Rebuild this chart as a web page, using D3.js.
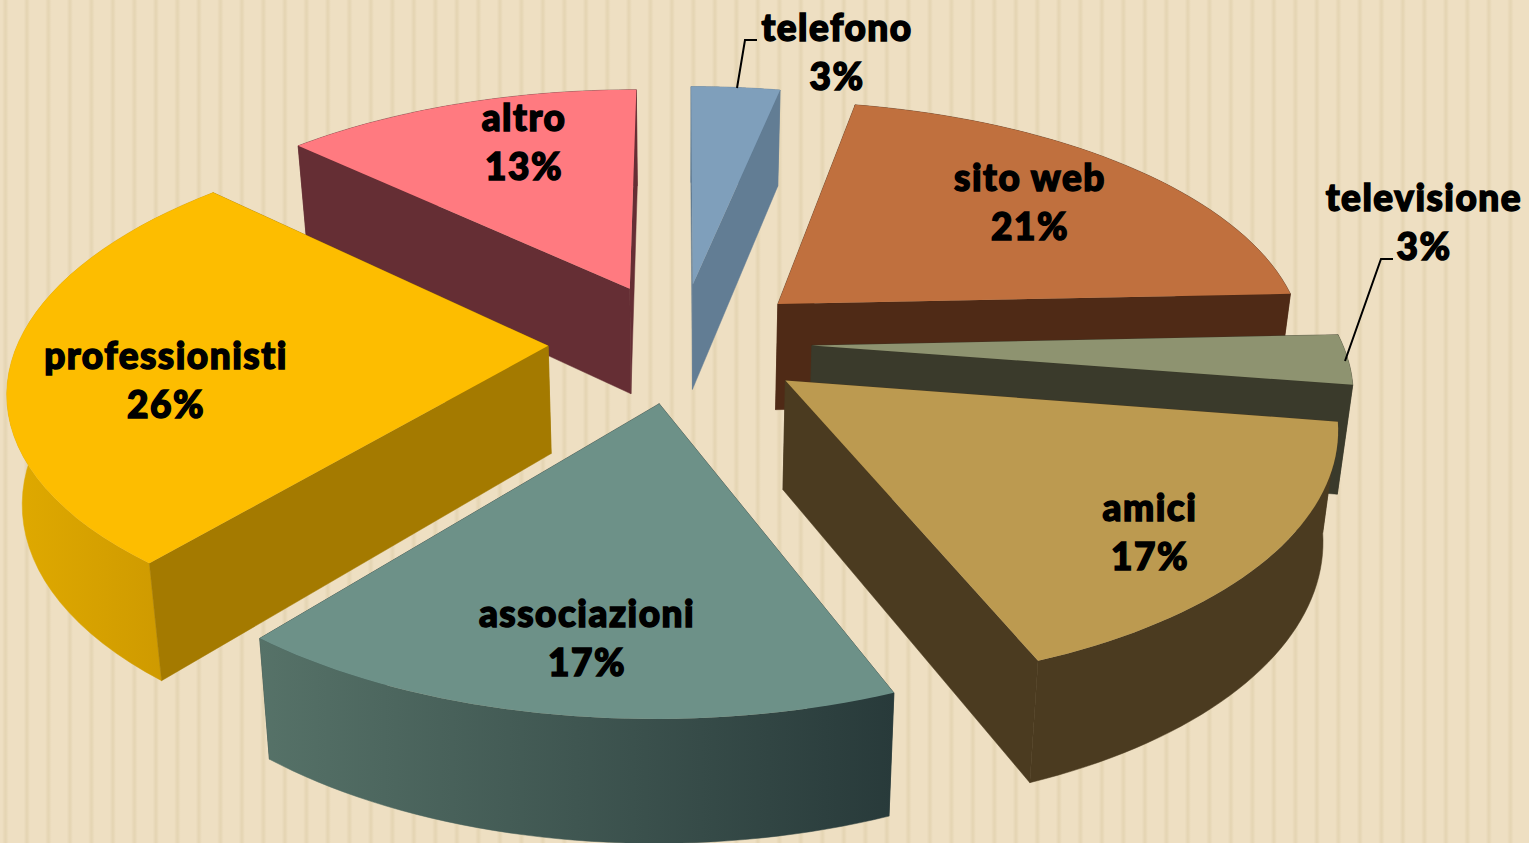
<!DOCTYPE html>
<html><head><meta charset="utf-8">
<script src="https://cdn.jsdelivr.net/npm/d3@7"></script>
<style>html,body{margin:0;padding:0;background:#eedfc2;overflow:hidden}
text{font-family:Lato,"Noto Sans",sans-serif;font-weight:900;fill:#000;stroke:#000;stroke-width:1.5;letter-spacing:1.5px;text-anchor:middle;paint-order:stroke}</style>
</head><body><svg id="c" width="1529" height="843"></svg>
<script>
// ---- data ----
const categories=["telefono","sito web","televisione","amici","associazioni","professionisti","altro"];
const values=[3.2,21.1,3.2,16.5,16.85,26.25,12.9];
// ---- styles ----
const topColors=["#7f9fbb","#c0703e","#8e9370","#bc9a50","#6d9188","#fdbd00","#ff7a80"];
const sideColors=["#627d94","#4f2a16","#3a3a2b","#4b3b20","#283a3a","#a47a00","#652e34"];
const wallStart=["#627d94","#4f2a16","#3a3a2b","#4b3b20","#567268","#e0aa00","#652e34"];
const wallEnd=["#627d94","#4f2a16","#3a3a2b","#4b3b20","#283a3a","#c99500","#652e34"];
const drawOrder=[6,0,1,5,2,3,4];
const labelX=[837,1030,1424,1150,587,166,524];
const labelY=[41,191,211,521,627,369,131];
const leaders=[[[737,88],[745,40],[757,40]],[[1345,361],[1381,259],[1393,259]]];
// ---- layout ----
const W=1529,H=843,cx=680,cy=342,rx=538,ry=245,rimX=0.985,explode=0.245,persp=0.155,shrink=0.023,depth=110;
const xs=d3.scaleLinear().domain([-1,1]).range([cx-rx,cx+rx]);
const ys=d3.scaleLinear().domain([-1,1]).range([cy-ry,cy+ry]);
const project=(X,Y,z)=>{const f=(1-shrink*z)/(1-persp*Y);
  return [xs(X*f),ys(Y*f)+depth*z*f];};
const svg=d3.select("#c");
const defs=svg.append("defs");
const pat=defs.append("pattern").attr("id","stripes").attr("patternUnits","userSpaceOnUse").attr("width",21.5).attr("height",H).attr("x",8.5);
const sg=defs.append("linearGradient").attr("id","sg");
[["0","#eedfc2"],["0.7","#eedfc2"],["0.86","#e4d4b2"],["1","#eedfc2"]].forEach(s=>sg.append("stop").attr("offset",s[0]).attr("stop-color",s[1]));
pat.append("rect").attr("width",21.5).attr("height",H).attr("fill","url(#sg)");
svg.append("rect").attr("width",W).attr("height",H).attr("fill","url(#stripes)");

const arcs=d3.pie().sort(null)(values);
const line=d3.line();
const poly=p=>line(p)+"Z";
drawOrder.forEach(i=>{
  const a=arcs[i],mid=(a.startAngle+a.endAngle)/2;
  const ox=explode*Math.sin(mid),oy=-explode*Math.cos(mid);
  const ang=d3.range(0,41).map(k=>a.startAngle+(a.endAngle-a.startAngle)*k/40);
  const rim=z=>ang.map(t=>project(ox+rimX*Math.sin(t),oy-Math.cos(t),z));
  const apex=z=>project(ox,oy,z);
  const t=rim(0),b=rim(1);
  const g=svg.append("g");
  const gid="w"+i;
  const gr=defs.append("linearGradient").attr("id",gid).attr("gradientUnits","userSpaceOnUse")
    .attr("x1",d3.min(t,d=>d[0])).attr("x2",d3.max(t,d=>d[0])).attr("y1",0).attr("y2",0);
  gr.append("stop").attr("offset",0).attr("stop-color",wallStart[i]);
  gr.append("stop").attr("offset",1).attr("stop-color",wallEnd[i]);
  const walls=[
    {y:oy-Math.cos(a.startAngle)/2,p:[apex(0),t[0],b[0],apex(1)],fill:sideColors[i]},
    {y:oy-Math.cos(a.endAngle)/2,p:[apex(0),t[40],b[40],apex(1)],fill:sideColors[i]},
    {y:oy-Math.cos(mid),p:t.concat(b.slice().reverse()),fill:`url(#${gid})`}
  ].sort((u,v)=>u.y-v.y);
  walls.forEach(w=>g.append("path").attr("d",poly(w.p)).attr("fill",w.fill).attr("stroke",w.fill).attr("stroke-width",0.5));
  g.append("path").attr("d",poly([apex(0)].concat(t))).attr("fill",topColors[i]);
});
leaders.forEach(l=>svg.append("path").attr("d",line(l)).attr("fill","none").attr("stroke","#000").attr("stroke-width",2));
categories.forEach((c,i)=>{
  const tx=svg.append("text").attr("x",labelX[i]).attr("y",labelY[i]).attr("font-size",37);
  tx.append("tspan").attr("x",labelX[i]).text(c);
  tx.append("tspan").attr("x",labelX[i]).attr("dy",49).text(Math.round(values[i])+"%");
});
</script></body></html>
